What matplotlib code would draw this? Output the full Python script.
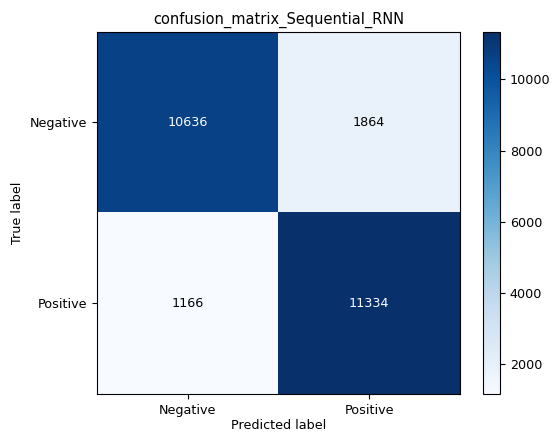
import numpy as np
import matplotlib
matplotlib.use('Agg')
import matplotlib.pyplot as plt

plt.rcParams['font.size'] = 9.2

# data
classes = ['Negative', 'Positive']
row_negative = [10636, 1864]
row_positive = [1166, 11334]
title = 'confusion_matrix_Sequential_RNN'

cm = np.array([row_negative, row_positive])

fig = plt.figure(figsize=(5.52, 4.32), dpi=100)
ax = fig.add_axes([0.176, 0.088, 0.657, 0.838])
cax = fig.add_axes([0.875, 0.088, 0.031, 0.838])

im = ax.imshow(cm, interpolation='nearest', cmap=plt.cm.Blues, aspect='auto')
ax.set_title(title, fontsize=10.5)
fig.colorbar(im, cax=cax)

ticks = np.arange(len(classes))
ax.set_xticks(ticks)
ax.set_xticklabels(classes)
ax.set_yticks(ticks)
ax.set_yticklabels(classes)

thresh = cm.max() / 2.
for i in range(cm.shape[0]):
    for j in range(cm.shape[1]):
        ax.text(j, i, format(cm[i, j], 'd'),
                ha='center', va='center',
                color='white' if cm[i, j] > thresh else 'black')

ax.set_ylabel('True label')
ax.set_xlabel('Predicted label', labelpad=2)

plt.savefig('out.png', dpi=100)
